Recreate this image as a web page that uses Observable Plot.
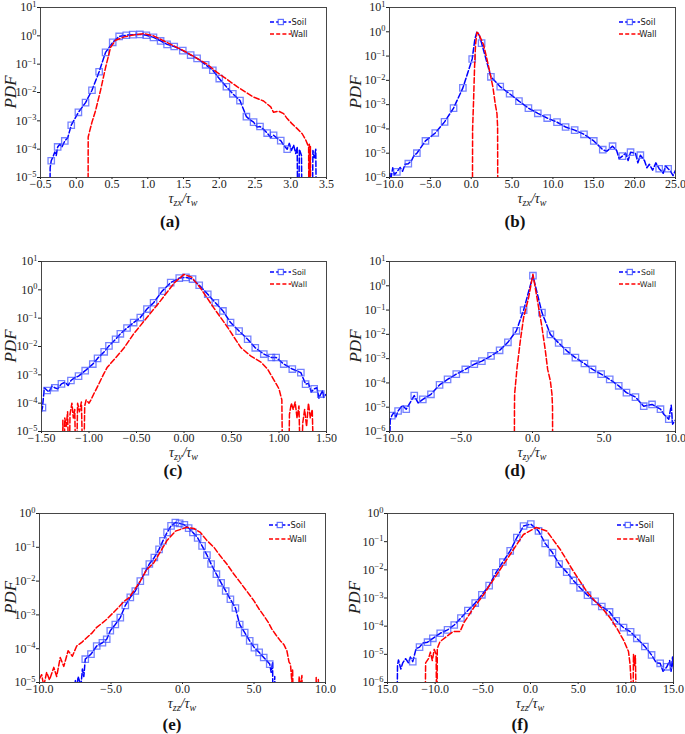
<!DOCTYPE html>
<html><head><meta charset="utf-8">
<script src="https://cdn.jsdelivr.net/npm/d3@7"></script>
<script src="https://cdn.jsdelivr.net/npm/@observablehq/plot@0.6"></script>
<style>
body{margin:0;background:#fff;}
#root{position:relative;width:685px;height:734px;overflow:hidden;background:#fff;}
#root svg{position:absolute;overflow:visible;}
.cap{position:absolute;font:bold 17px "Liberation Serif",serif;line-height:1;color:#111;transform:translate(-50%,-50%);white-space:nowrap;}
</style></head><body><div id="root"></div><script>
// ---------- data (x, PDF) ----------
const soilA = [[-0.35,3.9e-5],[-0.26,1.2e-4],[-0.16,1.95e-4],[-0.07,7e-4],[0.03,2e-3],[0.13,4.4e-3],[0.22,1.2e-2],[0.32,5.4e-2],[0.41,0.26],[0.51,0.59],[0.60,0.95],[0.70,1.05],[0.79,1.1],[0.89,1.12],[0.98,1.05],[1.08,0.88],[1.18,0.66],[1.27,0.5],[1.37,0.42],[1.49,0.3],[1.60,0.21],[1.69,0.16],[1.81,0.095],[1.91,0.061],[2.0,0.031],[2.1,0.016],[2.19,0.009],[2.29,5.2e-3],[2.38,1.4e-3],[2.48,9e-4],[2.57,6.3e-4],[2.67,3.7e-4],[2.76,3.1e-4],[2.86,2e-4],[2.95,1e-4]];
const soilExtraA = [[-0.37,1e-7],[-0.365,2.2e-5],[-0.33,5e-5],[-0.3,8e-5],[-0.28,6e-5],[-0.23,1.5e-4],[-0.2,1.2e-4],[-0.12,2.5e-4],[2.43,1.1e-3],[2.53,6e-4],[2.62,5e-4],[2.72,2.6e-4],[2.81,2.4e-4],[2.9,1.4e-4],[2.98,1.6e-4],[3.01,9e-5],[3.04,1.4e-4],[3.07,7e-5],[3.09,1.2e-4],[3.1,1e-7],[3.11,1e-7],[3.12,1e-4],[3.15,6e-5],[3.16,1e-7],[3.30,1e-7],[3.31,9e-5],[3.33,5e-5],[3.35,1e-4],[3.36,1e-7]];
const wallA = [[0.165,1e-7],[0.167,2.7e-4],[0.22,9e-4],[0.27,2.3e-3],[0.34,1.2e-2],[0.41,7.6e-2],[0.48,0.39],[0.55,0.7],[0.67,0.92],[0.8,1.08],[0.95,1.2],[1.08,1.0],[1.22,0.67],[1.36,0.45],[1.5,0.3],[1.69,0.16],[1.83,0.1],[1.97,0.051],[2.11,0.029],[2.25,0.016],[2.37,0.0103],[2.48,6.9e-3],[2.62,5e-3],[2.72,3.1e-3],[2.76,2e-3],[2.83,2.2e-3],[2.9,1.8e-3],[2.95,1.2e-3],[3.02,7.8e-4],[3.09,5.3e-4],[3.16,3.5e-4],[3.21,2.1e-4],[3.25,1.2e-4],[3.255,1e-7],[3.26,1.5e-4],[3.265,1e-7],[3.275,1.3e-4],[3.28,1e-7]];

const soilB = [[-9.1,1.7e-6],[-7.7,3.7e-6],[-6.65,1e-5],[-5.6,3.2e-5],[-4.4,6.8e-5],[-3.26,1.95e-4],[-2.16,7.2e-4],[-1.02,4.9e-3],[0.12,7.6e-2],[1.27,0.34],[2.41,1.4e-2],[3.55,5.5e-3],[4.7,2.8e-3],[5.84,1.4e-3],[7.0,7.2e-4],[8.15,4.4e-4],[9.3,2.8e-4],[10.5,1.9e-4],[11.55,1.2e-4],[12.66,8.9e-5],[13.8,6e-5],[15.0,3.2e-5],[16.1,1.4e-5],[17.3,1.95e-5],[18.5,7.6e-6],[19.5,1.1e-5],[20.7,8.3e-6],[23.0,2.3e-6],[24.1,2.3e-6]];
const soilExtraB = [[-10,1e-7],[-9.95,1.5e-6],[-9.8,1e-6],[-9.6,2.5e-6],[-9.4,1.3e-6],[-8.7,2.6e-6],[-8.4,1.8e-6],[-8.1,3.5e-6],[-7.3,5e-6],[-7.0,8e-6],[0.45,0.5],[0.7,1.0],[1.0,0.7],[16.6,1.2e-5],[17.8,1.3e-5],[18.1,6e-6],[18.9,1e-5],[19.2,5e-6],[20.1,1e-5],[20.4,4e-6],[21.2,5e-6],[21.5,2.5e-6],[21.8,3.5e-6],[22.2,2e-6],[22.6,4e-6],[23.5,1.5e-6],[23.8,3e-6],[24.4,1.8e-6],[24.7,1.2e-6],[25,2e-6]];
const wallB = [[0.15,1e-7],[0.17,1e-4],[0.29,1.5e-3],[0.41,3.5e-2],[0.53,0.3],[0.7,0.95],[0.9,0.85],[1.2,0.5],[1.5,0.3],[1.92,7.6e-2],[2.33,1.8e-2],[2.66,5.2e-3],[2.94,1.07e-3],[3.15,4.3e-4],[3.23,1.2e-4],[3.25,1e-7]];

const soilC = [[-1.49,7e-5],[-1.44,2.8e-4],[-1.36,3.5e-4],[-1.29,4.8e-4],[-1.19,6.3e-4],[-1.11,9e-4],[-1.04,1.4e-3],[-0.96,2.4e-3],[-0.91,3.8e-3],[-0.84,6.5e-3],[-0.79,1.05e-2],[-0.72,1.8e-2],[-0.67,2.8e-2],[-0.60,4.5e-2],[-0.53,7e-2],[-0.46,0.105],[-0.39,0.21],[-0.32,0.35],[-0.23,0.9],[-0.14,1.8],[-0.05,2.6],[0.02,2.75],[0.09,2.4],[0.16,1.45],[0.25,0.7],[0.33,0.35],[0.41,0.18],[0.49,7e-2],[0.58,3.5e-2],[0.67,1.8e-2],[0.75,9e-3],[0.84,5.4e-3],[0.92,4.1e-3],[0.97,4.1e-3],[1.05,2.4e-3],[1.14,1.6e-3],[1.23,1.2e-3],[1.28,4.7e-4],[1.37,3.2e-4],[1.44,2.1e-4]];
const soilExtraC = [[-1.5,5e-5],[-1.47,3.5e-4],[-1.42,2.5e-4],[-1.39,4e-4],[-1.33,3.2e-4],[-1.25,5.5e-4],[-1.22,4.2e-4],[-1.15,8e-4],[1.31,5e-4],[1.34,2.5e-4],[1.4,3.5e-4],[1.42,1.5e-4],[1.46,2.8e-4],[1.47,1.6e-4],[1.49,2e-4],[1.5,1.8e-4]];
const wallC = [[-1.28,1e-7],[-1.275,2.5e-5],[-1.265,1e-7],[-1.255,3e-5],[-1.24,1.5e-5],[-1.225,5e-5],[-1.21,1e-7],[-1.2,4e-5],[-1.18,1e-4],[-1.165,3e-5],[-1.15,6e-5],[-1.135,1e-7],[-1.12,1e-4],[-1.1,5e-5],[-1.08,1.1e-4],[-1.06,1e-7],[-1.045,8e-5],[-1.03,1.3e-4],[-1.0,1e-4],[-0.98,1.3e-4],[-0.95,2.1e-4],[-0.9,4.5e-4],[-0.85,1e-3],[-0.81,1.8e-3],[-0.72,4e-3],[-0.63,9e-3],[-0.53,2.8e-2],[-0.39,0.105],[-0.25,0.4],[-0.1,1.8],[0,3.5],[0.08,2.8],[0.17,1.2],[0.31,0.24],[0.46,4.7e-2],[0.6,9e-3],[0.7,4.7e-3],[0.81,2.8e-3],[0.88,1.6e-3],[0.95,6.3e-4],[1.0,3.2e-4],[1.03,1.3e-4],[1.04,1e-7],[1.1,1e-7],[1.11,4e-5],[1.13,1e-4],[1.15,6e-5],[1.17,1.1e-4],[1.19,3e-5],[1.21,8e-5],[1.23,1e-7],[1.25,2e-5],[1.27,6e-5],[1.29,1.5e-5],[1.31,1e-4],[1.33,3e-5],[1.35,6e-5],[1.37,1e-7]];

const soilD = [[-9.84,4.5e-6],[-9.4,7e-6],[-8.83,8.3e-6],[-8.27,3e-5],[-7.67,2.1e-5],[-7.1,3.4e-5],[-6.5,8.3e-5],[-5.94,1.4e-4],[-5.33,2.3e-4],[-4.7,3.6e-4],[-4.07,5.9e-4],[-3.54,7.9e-4],[-2.9,1.3e-3],[-2.3,2.2e-3],[-1.72,4.7e-3],[-1.13,1.4e-2],[-0.62,0.1],[0.03,2.6],[0.66,7.9e-2],[1.25,1e-2],[1.83,4.4e-3],[2.4,2.1e-3],[3.0,1.1e-3],[3.63,6.3e-4],[4.2,3.6e-4],[4.8,2.3e-4],[5.4,1.4e-4],[6.03,7.6e-5],[6.57,4e-5],[7.2,2.6e-5],[7.78,1.1e-5],[8.36,1.3e-5],[8.95,8.3e-6],[9.53,3.2e-6]];
const soilExtraD = [[-10,1e-7],[-9.95,3e-6],[-9.7,6e-6],[-9.55,4e-6],[-9.1,1.2e-5],[-8.6,1.4e-5],[-8.0,1.5e-5],[9.2,5e-6],[9.7,1.2e-5],[9.8,2e-6],[10,3e-6]];
const wallD = [[-1.27,1e-7],[-1.26,1e-5],[-1.25,3.5e-5],[-1.08,4.3e-4],[-0.85,5.5e-3],[-0.62,5e-2],[-0.27,0.33],[0.03,3.0],[0.31,0.33],[0.66,2e-2],[0.9,2.1e-3],[1.06,3.6e-4],[1.25,1.2e-4],[1.36,3.5e-5],[1.4,1e-5],[1.41,1e-7]];

const soilE = [[-6.8,4.9e-5],[-6.4,6.9e-5],[-6.0,1.2e-4],[-5.6,1.5e-4],[-5.3,1.9e-4],[-5.05,3.4e-4],[-4.7,5.2e-4],[-4.35,8.3e-4],[-4.0,1.9e-3],[-3.65,3.3e-3],[-3.3,5.1e-3],[-2.95,1e-2],[-2.6,1.9e-2],[-2.32,3.2e-2],[-1.97,5e-2],[-1.64,8.7e-2],[-1.37,0.155],[-1.08,0.275],[-0.8,0.43],[-0.5,0.54],[-0.2,0.51],[0.13,0.46],[0.43,0.37],[0.73,0.275],[1.06,0.19],[1.37,0.11],[1.71,5.9e-2],[2.0,3.2e-2],[2.37,1.6e-2],[2.7,8.9e-3],[3.02,5.1e-3],[3.35,2.9e-3],[3.7,1.6e-3],[4.0,5.2e-4],[4.35,3e-4],[4.7,1.7e-4],[5.03,1.07e-4],[5.36,7.8e-5],[5.68,5.5e-5],[6.1,3.5e-5]];
const soilExtraE = [[-7.6,1e-7],[-7.5,1.2e-5],[-7.4,6e-6],[-7.3,1.5e-5],[-7.1,8e-6],[-7.0,2.5e-5],[-6.9,1.5e-5],[6.2,2e-5],[6.3,4e-5],[6.35,1e-7],[6.45,1.5e-5],[6.55,1e-7]];
const wallE = [[-10,1.3e-5],[-9.85,1.7e-5],[-9.7,8e-6],[-9.5,2e-5],[-9.3,1.2e-5],[-9.0,2.8e-5],[-8.8,1.5e-5],[-8.55,5.5e-5],[-8.3,3e-5],[-8.0,8.7e-5],[-7.7,6e-5],[-7.4,1.2e-4],[-7.0,1.6e-4],[-6.7,2.1e-4],[-6.3,3e-4],[-6.0,4.3e-4],[-5.6,5.8e-4],[-5.3,7.4e-4],[-4.9,1.1e-3],[-4.45,1.7e-3],[-4.1,2.5e-3],[-3.75,3.2e-3],[-3.3,6e-3],[-2.95,1e-2],[-2.5,2.2e-2],[-2.0,3.5e-2],[-1.5,8e-2],[-1.1,0.155],[-0.5,0.3],[0.3,0.39],[0.8,0.36],[1.25,0.275],[1.7,0.16],[2.2,0.1],[2.65,5.5e-2],[3.1,3.2e-2],[3.6,1.6e-2],[4.05,9e-3],[4.5,5e-3],[5.0,2.6e-3],[5.35,1.5e-3],[5.7,9.3e-4],[6.0,6e-4],[6.25,3.8e-4],[6.55,2.5e-4],[6.85,1.7e-4],[7.1,1.3e-4],[7.3,8.7e-5],[7.45,4e-5],[7.55,3.5e-5],[7.65,1e-5],[7.7,2.5e-5],[7.8,1e-7],[8.1,1e-7],[8.15,1.5e-5],[8.25,8e-6],[8.35,1.6e-5],[8.45,1e-7],[9.3,1e-7],[9.35,1.4e-5],[9.45,1e-7],[9.5,1.3e-5],[9.55,1e-7]];

const soilF = [[-12.35,5.5e-6],[-11.64,1.8e-5],[-10.8,2.7e-5],[-10.24,3.7e-5],[-9.47,5.6e-5],[-8.7,7.4e-5],[-8.0,1.1e-4],[-7.3,1.95e-4],[-6.57,3.6e-4],[-5.8,6.6e-4],[-5.1,1.3e-3],[-4.34,2.75e-3],[-3.64,7.8e-3],[-2.9,1.9e-2],[-2.13,4.7e-2],[-1.43,0.14],[-0.73,0.36],[0.03,0.42],[0.84,0.24],[1.54,8.7e-2],[2.3,4.1e-2],[3.0,1.6e-2],[3.8,8.3e-3],[4.5,4.2e-3],[5.2,2.3e-3],[5.98,1.26e-3],[6.78,7.6e-4],[7.48,5e-4],[8.29,3.2e-4],[8.99,1.55e-4],[9.76,8.9e-5],[10.5,6.3e-5],[11.15,3.7e-5],[12.0,1.9e-5],[12.7,9.5e-6],[13.6,4.8e-6],[14.3,3.6e-6]];
const soilExtraF = [[-14,1e-7],[-13.95,4e-6],[-13.85,6.3e-6],[-13.6,3e-6],[-13.4,5e-6],[-13.1,7e-6],[-12.8,5e-6],[-12.6,8e-6],[-12.0,1.6e-5],[-11.3,2.5e-5],[13.2,5e-6],[13.9,2.5e-6],[14.6,6e-6],[14.75,2.5e-6],[14.9,8e-6],[15,3e-6]];
const wallF = [[-11.05,1e-7],[-11.0,5e-6],[-10.7,7e-6],[-10.5,1.2e-5],[-10.3,6e-6],[-10.1,1.5e-5],[-9.9,1e-5],[-9.85,1e-7],[-9.8,1e-7],[-9.78,1.6e-5],[-9.5,2.8e-5],[-8.8,4.3e-5],[-8.1,6.5e-5],[-7.38,6.5e-5],[-7.0,1.3e-4],[-5.98,4.4e-4],[-4.93,1.3e-3],[-3.54,6.8e-3],[-2.14,3.5e-2],[-0.74,0.18],[0.6,0.32],[1.7,0.24],[3.1,5.4e-2],[4.5,8.9e-3],[5.9,1.7e-3],[6.95,6.6e-4],[7.66,3.8e-4],[8.36,1.95e-4],[9.05,8.5e-5],[9.76,3.2e-5],[10.28,1.26e-5],[10.45,4.2e-6],[10.55,1e-6],[10.63,1e-7],[10.75,1e-7],[10.8,1e-5],[10.9,4e-6],[11.0,9e-6],[11.1,1e-7]];

// ---------- ticks ----------
const xTicksA = [-0.5,0,0.5,1,1.5,2,2.5,3,3.5];
const xLabelsA = ["−0.5","0.0","0.5","1.0","1.5","2.0","2.5","3.0","3.5"];
const xTicksB = [-10,-5,0,5,10,15,20,25];
const xLabelsB = ["−10.0","−5.0","0.0","5.0","10.0","15.0","20.0","25.0"];
const xTicksC = [-1.5,-1,-0.5,0,0.5,1,1.5];
const xLabelsC = ["−1.50","−1.00","−0.50","0.00","0.50","1.00","1.50"];
const xTicksD = [-10,-5,0,5,10];
const xLabelsD = ["−10.0","−5.0","0.0","5.0","10.0"];
const xTicksF = [-15,-10,-5,0,5,10,15];
const xLabelsF = ["15.0","−10.0","−5.0","0.0","5.0","10.0","15.0"];
const seriesNames = ["Soil","Wall"];
const captions = ["(a)","(b)","(c)","(d)","(e)","(f)"];
const subs = ["zx","zx","zy","zy","zz","zz"];

// ---------- layout ----------
const panels = [
 {soil:soilA, extra:soilExtraA, wall:wallA, xd:[-0.5,3.5], xt:xTicksA, xl:xLabelsA, ye:[-5,1], L:0,  T:0,   W:340, H:210, mL:40, mR:14, mT:7, mB:33, yLx:10, cx:170, cy:221, lg:[15,27,8.3]},
 {soil:soilB, extra:soilExtraB, wall:wallB, xd:[-10,25],   xt:xTicksB, xl:xLabelsB, ye:[-6,1], L:340,T:0,   W:345, H:210, mL:49, mR:10, mT:7, mB:33, yLx:15, cx:515, cy:221, lg:[15,27,8.3]},
 {soil:soilC, extra:soilExtraC, wall:wallC, xd:[-1.5,1.5], xt:xTicksC, xl:xLabelsC, ye:[-5,1], L:0,  T:254, W:340, H:210, mL:41, mR:14, mT:7, mB:33, yLx:10, cx:173, cy:470, lg:[11,23,7.8]},
 {soil:soilD, extra:soilExtraD, wall:wallD, xd:[-10,10],   xt:xTicksD, xl:xLabelsD, ye:[-6,1], L:340,T:254, W:345, H:210, mL:49, mR:10, mT:7, mB:33, yLx:15, cx:515, cy:470, lg:[11,23,7.8]},
 {soil:soilE, extra:soilExtraE, wall:wallE, xd:[-10,10],   xt:xTicksD, xl:xLabelsD, ye:[-5,0], L:0,  T:506, W:340, H:209, mL:39, mR:15, mT:7, mB:33, yLx:10, cx:172, cy:724, lg:[12,26,8.3]},
 {soil:soilF, extra:soilExtraF, wall:wallF, xd:[-15,15],   xt:xTicksF, xl:xLabelsF, ye:[-6,0], L:340,T:506, W:345, H:209, mL:47, mR:12, mT:7, mB:33, yLx:14, cx:520, cy:724, lg:[12,26,8.3]}
];

const BLUE = "#0000ff", RED = "#ff0000", MARK = "#3a4dff", DASH = "5.5,2.4";
const root = document.getElementById("root");
const X = d => d[0], Y = d => d[1];

panels.forEach((p, i) => {
  const line = p.soil.concat(p.extra).sort((a, b) => a[0] - b[0]);
  const svg = Plot.plot({
    width: p.W, height: p.H,
    marginLeft: p.mL, marginRight: p.mR, marginTop: p.mT, marginBottom: p.mB,
    style: {fontFamily: '"Liberation Serif", serif', fontSize: "12px", color: "#222", background: "transparent", overflow: "visible"},
    x: {domain: p.xd, ticks: p.xt, tickFormat: d => p.xl[p.xt.indexOf(d)], tickSize: 2, tickPadding: 0, label: null},
    y: {type: "log", domain: [10 ** p.ye[0], 10 ** p.ye[1]], ticks: d3.range(p.ye[0], p.ye[1] + 1).map(e => 10 ** e),
        tickFormat: d => { const e = Math.round(Math.log10(d)); return e < 0 ? "−" + (-e) : "" + e; },
        tickSize: 3, tickPadding: 1, label: null},
    marks: [
      Plot.line(line, {x: X, y: Y, stroke: BLUE, strokeWidth: 1.5, strokeDasharray: DASH, clip: true}),
      Plot.dot(p.soil, {x: X, y: Y, symbol: "square", r: 3.6, stroke: MARK, strokeOpacity: 0.7, strokeWidth: 1.3, fill: "none", clip: true}),
      Plot.line(p.wall, {x: X, y: Y, stroke: RED, strokeWidth: 1.5, strokeDasharray: DASH, clip: true}),
      Plot.frame({stroke: "#333", strokeWidth: 0.9})
    ]
  });
  svg.style.left = p.L + "px";
  svg.style.top = p.T + "px";
  const s = d3.select(svg);
  // superscript exponents on y tick labels
  s.selectAll('g[aria-label="y-axis tick label"] text').each(function () {
    const e = this.textContent;
    const t = d3.select(this);
    t.text(null);
    t.append("tspan").text("10");
    t.append("tspan").attr("dy", "-0.5em").attr("font-size", "0.7em").text(e);
  });
  const fx0 = p.mL, fx1 = p.W - p.mR, fy0 = p.mT, fy1 = p.H - p.mB;
  // y label
  s.append("text").attr("transform", `translate(${p.yLx},${(fy0 + fy1) / 2}) rotate(-90)`)
    .attr("text-anchor", "middle").attr("dominant-baseline", "central")
    .attr("font-family", '"Liberation Serif", serif').attr("font-style", "italic").attr("font-size", 17)
    .attr("fill", "#222").text("PDF");
  // x label τ_sub / τ_w
  const xl = s.append("text").attr("x", (fx0 + fx1) / 2).attr("y", fy1 + 25.5).attr("text-anchor", "middle")
    .attr("font-family", '"Liberation Serif", serif').attr("font-style", "italic").attr("font-size", 14).attr("fill", "#222");
  xl.append("tspan").text("τ");
  xl.append("tspan").attr("font-size", 10).attr("dy", 3).text(subs[i]);
  xl.append("tspan").attr("dy", -3).text("/τ");
  xl.append("tspan").attr("font-size", 10).attr("dy", 3).text("w");
  // legend
  const lg = s.append("g");
  [[p.lg[0], BLUE, seriesNames[0], true], [p.lg[1], RED, seriesNames[1], false]].forEach(([dy, c, name, sq]) => {
    const y = fy0 + dy;
    lg.append("line").attr("x1", fx1 - 56).attr("x2", fx1 - 35).attr("y1", y).attr("y2", y)
      .attr("stroke", c).attr("stroke-width", 1.5).attr("stroke-dasharray", "4,2.2");
    if (sq) lg.append("rect").attr("x", fx1 - 47.8).attr("y", y - 2.6).attr("width", 5.2).attr("height", 5.2)
      .attr("fill", "#fff").attr("stroke", MARK).attr("stroke-opacity", 0.8).attr("stroke-width", 1.2);
    lg.append("text").attr("x", fx1 - 27).attr("y", y).attr("dominant-baseline", "central")
      .attr("font-family", '"DejaVu Sans", sans-serif').attr("font-size", p.lg[2]).attr("fill", "#222").text(name);
  });
  root.appendChild(svg);
  const cap = document.createElement("div");
  cap.className = "cap";
  cap.style.left = p.cx + "px";
  cap.style.top = p.cy + "px";
  cap.textContent = captions[i];
  root.appendChild(cap);
});
</script></body></html>
